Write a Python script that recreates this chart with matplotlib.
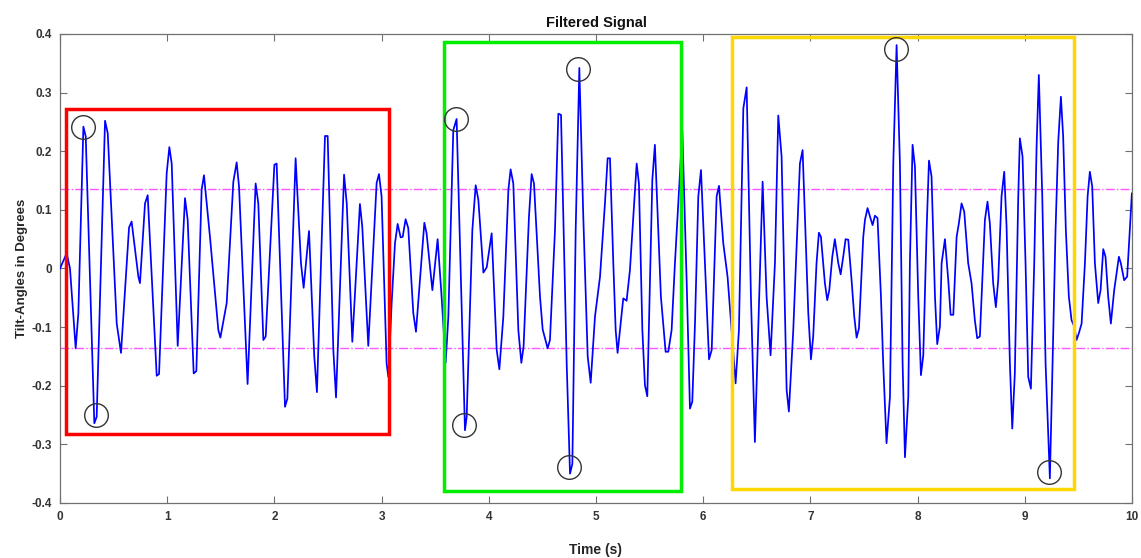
import numpy as np
import matplotlib.pyplot as plt
from matplotlib.patches import Rectangle

plt.rcParams['font.family'] = ['Liberation Sans', 'DejaVu Sans']
plt.rcParams['font.weight'] = 'bold'

# traced signal (time in s, tilt angle in degrees)
t_pts = [
    0.0, 0.062, 0.093, 0.146, 0.171, 0.218, 0.24, 0.32, 0.342, 0.42, 0.445, 0.529, 0.569,
    0.644, 0.668, 0.731, 0.746, 0.793, 0.818, 0.902, 0.924, 0.995, 1.02, 1.042, 1.098,
    1.166, 1.191, 1.247, 1.272, 1.321, 1.343, 1.399, 1.477, 1.496, 1.555, 1.617, 1.648, 1.67,
    1.75, 1.825, 1.85, 1.897, 1.919, 2.0, 2.021, 2.099, 2.121, 2.198, 2.248, 2.273, 2.323,
    2.372, 2.397, 2.472, 2.497, 2.55, 2.575, 2.65, 2.675, 2.727, 2.798, 2.82, 2.876, 2.954,
    2.976, 3.0, 3.047, 3.063, 3.094, 3.125, 3.15, 3.178, 3.197, 3.224, 3.249, 3.296, 3.321,
    3.399, 3.42, 3.474, 3.523, 3.56, 3.598, 3.623, 3.669, 3.7, 3.778, 3.794, 3.847, 3.878,
    3.903, 3.95, 3.981, 4.027, 4.074, 4.099, 4.136, 4.183, 4.204, 4.229, 4.276, 4.304, 4.325,
    4.375, 4.4, 4.422, 4.478, 4.503, 4.549, 4.571, 4.618, 4.649, 4.674, 4.727, 4.758, 4.78,
    4.811, 4.845, 4.882, 4.923, 4.951, 4.991, 5.007, 5.038, 5.084, 5.109, 5.131, 5.162, 5.184,
    5.202, 5.255, 5.286, 5.317, 5.38, 5.401, 5.433, 5.457, 5.479, 5.526, 5.55, 5.606, 5.65,
    5.675, 5.706, 5.737, 5.806, 5.846, 5.877, 5.899, 5.924, 5.955, 5.98, 6.017, 6.055, 6.08,
    6.126, 6.148, 6.188, 6.228, 6.266, 6.303, 6.334, 6.375, 6.406, 6.446, 6.483, 6.514, 6.555,
    6.592, 6.629, 6.67, 6.701, 6.732, 6.779, 6.8, 6.841, 6.903, 6.928, 6.965, 6.981, 7.006,
    7.027, 7.058, 7.08, 7.099, 7.136, 7.158, 7.177, 7.205, 7.229, 7.261, 7.283, 7.307, 7.329,
    7.354, 7.385, 7.41, 7.432, 7.454, 7.494, 7.51, 7.534, 7.556, 7.581, 7.603, 7.627, 7.659,
    7.68, 7.711, 7.743, 7.774, 7.805, 7.836, 7.861, 7.883, 7.914, 7.929, 7.954, 7.976, 8.007,
    8.032, 8.054, 8.085, 8.107, 8.131, 8.163, 8.184, 8.209, 8.225, 8.256, 8.287, 8.309, 8.334,
    8.365, 8.386, 8.411, 8.436, 8.473, 8.504, 8.535, 8.557, 8.582, 8.629, 8.653, 8.675, 8.706,
    8.731, 8.753, 8.784, 8.809, 8.831, 8.862, 8.884, 8.908, 8.94, 8.955, 8.98, 9.008, 9.033,
    9.058, 9.089, 9.111, 9.132, 9.164, 9.195, 9.235, 9.26, 9.288, 9.313, 9.338, 9.359, 9.384,
    9.412, 9.437, 9.462, 9.484, 9.506, 9.531, 9.562, 9.587, 9.608, 9.63, 9.655, 9.686, 9.708,
    9.733, 9.754, 9.779, 9.804, 9.835, 9.879, 9.897, 9.928, 9.956, 9.981, 10.0,
]
v_pts = [
    0.0, 0.026, 0.0, -0.136, -0.077, 0.242, 0.225, -0.264, -0.253, 0.252, 0.231, -0.094, -0.144,
    0.07, 0.08, -0.014, -0.025, 0.111, 0.125, -0.183, -0.18, 0.162, 0.207, 0.179, -0.132,
    0.12, 0.083, -0.179, -0.175, 0.134, 0.159, 0.054, -0.105, -0.118, -0.059, 0.148, 0.181, 0.14,
    -0.197, 0.145, 0.111, -0.122, -0.116, 0.177, 0.179, -0.236, -0.222, 0.188, 0.009, -0.033, 0.064,
    -0.15, -0.211, 0.226, 0.226, -0.139, -0.22, 0.16, 0.111, -0.125, 0.11, 0.071, -0.132, 0.146,
    0.161, 0.123, -0.162, -0.185, -0.059, 0.043, 0.076, 0.053, 0.054, 0.084, 0.069, -0.076, -0.108,
    0.078, 0.06, -0.037, 0.05, -0.048, -0.161, -0.082, 0.236, 0.255, -0.276, -0.253, 0.066, 0.142,
    0.117, -0.007, 0.002, 0.06, -0.139, -0.172, -0.082, 0.134, 0.169, 0.145, -0.105, -0.161, -0.133,
    0.088, 0.161, 0.145, -0.048, -0.104, -0.136, -0.122, 0.066, 0.264, 0.262, -0.162, -0.35, -0.333,
    0.066, 0.342, 0.088, -0.15, -0.195, -0.082, -0.059, -0.014, 0.111, 0.188, 0.188, 0.009, -0.105,
    -0.144, -0.051, -0.055, -0.003, 0.179, 0.145, -0.105, -0.199, -0.218, 0.151, 0.211, -0.048, -0.142,
    -0.142, -0.105, 0.009, 0.235, -0.02, -0.239, -0.227, -0.094, 0.123, 0.168, 0.009, -0.155, -0.139,
    0.123, 0.141, 0.043, -0.014, -0.105, -0.196, -0.105, 0.273, 0.309, -0.048, -0.296, -0.105, 0.148,
    -0.048, -0.148, 0.009, 0.261, 0.191, -0.207, -0.244, -0.105, 0.179, 0.202, 0.009, -0.076, -0.155,
    -0.116, 0.009, 0.061, 0.054, -0.025, -0.054, -0.037, 0.02, 0.05, 0.009, -0.01, 0.02, 0.05,
    0.049, -0.02, -0.082, -0.118, -0.102, 0.054, 0.083, 0.103, 0.089, 0.074, 0.09, 0.086, -0.048,
    -0.162, -0.298, -0.219, 0.179, 0.381, 0.179, -0.162, -0.322, -0.219, 0.009, 0.211, 0.174, -0.048,
    -0.182, -0.148, 0.066, 0.184, 0.157, -0.048, -0.129, -0.099, 0.009, 0.05, -0.02, -0.079, -0.079,
    0.054, 0.077, 0.111, 0.097, 0.009, -0.025, -0.088, -0.119, -0.116, 0.083, 0.114, 0.077, -0.025,
    -0.066, -0.02, 0.123, 0.165, 0.071, -0.162, -0.273, -0.179, 0.123, 0.222, 0.191, 0.009, -0.185,
    -0.205, 0.009, 0.208, 0.33, 0.123, -0.162, -0.358, -0.162, 0.066, 0.216, 0.293, 0.225, 0.066,
    -0.048, -0.088, -0.099, -0.122, -0.11, -0.094, 0.009, 0.123, 0.165, 0.14, 0.009, -0.059, -0.037,
    0.033, 0.02, -0.048, -0.094, -0.037, 0.02, 0.009, -0.02, -0.014, 0.066, 0.128,
]

threshold = 0.135

# highlighted segments: (t_start, t_end, v_low, v_high, colour)
boxes = [
    (0.053, 3.07, -0.283, 0.272, '#ff0000'),
    (3.585, 5.793, -0.379, 0.387, '#00ee00'),
    (6.266, 9.462, -0.377, 0.394, '#ffd700'),
]

# circled extrema
circ_t = [0.218, 0.332, 3.69, 3.77, 4.752, 4.835, 7.798, 9.226]
circ_v = [0.242, -0.25, 0.255, -0.267, -0.339, 0.34, 0.375, -0.348]

fig = plt.figure(figsize=(11.41, 5.58), dpi=100)
ax = fig.add_axes([0.0526, 0.0986, 0.9394, 0.8405])

ax.plot(t_pts, v_pts, color='#0000ff', lw=1.25, zorder=3)
ax.axhline(threshold, color='#ff55ff', ls='-.', lw=1.0, zorder=2)
ax.axhline(-threshold, color='#ff55ff', ls='-.', lw=1.0, zorder=2)

for t0, t1, lo, hi, c in boxes:
    ax.add_patch(Rectangle((t0, lo), t1 - t0, hi - lo, fill=False,
                           edgecolor=c, lw=2.5, zorder=4))

ax.plot(circ_t, circ_v, 'o', mfc='none', mec='#333333', ms=17, mew=1.0, zorder=5)

ax.set_xlim(0, 10)
ax.set_ylim(-0.4, 0.4)
ax.set_xticks(np.arange(0, 11, 1))
ax.set_yticks(np.round(np.arange(-0.4, 0.41, 0.1), 1))
ax.set_yticklabels(['-0.4', '-0.3', '-0.2', '-0.1', '0', '0.1', '0.2', '0.3', '0.4'])

ax.tick_params(direction='in', top=True, right=True, length=5, width=0.8,
               color='#707070', labelcolor='#333333', labelsize=8.5, pad=6)
for lab in ax.get_xticklabels() + ax.get_yticklabels():
    lab.set_fontweight('bold')
for s in ax.spines.values():
    s.set_color('#707070')
    s.set_linewidth(0.9)

ax.set_title('Filtered Signal', fontsize=10.5, fontweight='bold', pad=5, color='#111111')
ax.set_xlabel('Time (s)', fontsize=10, fontweight='bold', labelpad=14, color='#262626')
ax.set_ylabel('Tilt-Angles in Degrees', fontsize=9.5, fontweight='bold', labelpad=2, color='#262626')

fig.savefig('out.png', dpi=100)
